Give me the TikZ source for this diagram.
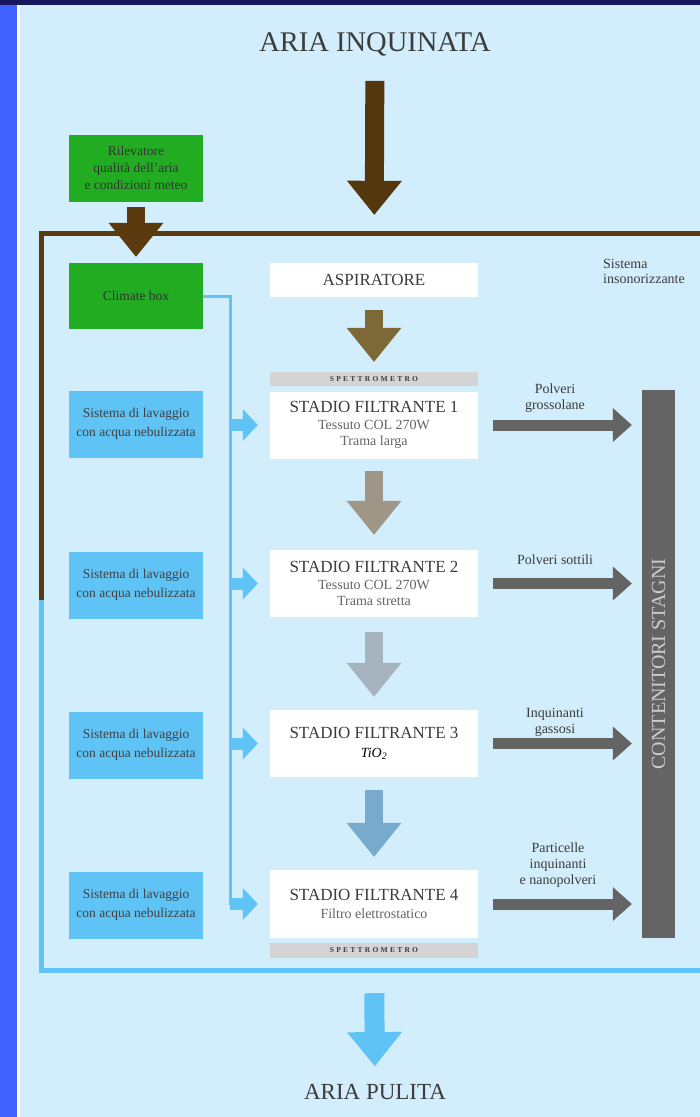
\documentclass[tikz,border=0pt]{standalone}
\usepackage{fontspec}
\setmainfont{Liberation Serif}
\usetikzlibrary{arrows.meta,positioning}

\definecolor{panel}{RGB}{210,237,251}
\definecolor{sidebar}{RGB}{64,96,255}
\definecolor{topbar}{RGB}{22,22,92}
\definecolor{boxgreen}{RGB}{34,172,34}
\definecolor{waterblue}{RGB}{95,195,245}
\definecolor{framebrown}{RGB}{90,58,14}
\definecolor{darkgrey}{RGB}{100,100,100}
\definecolor{bandgrey}{RGB}{212,212,212}
\definecolor{txtgrey}{RGB}{60,60,60}
\definecolor{flowA}{RGB}{125,105,55}
\definecolor{flowB}{RGB}{160,150,135}
\definecolor{flowC}{RGB}{165,180,190}
\definecolor{flowD}{RGB}{120,170,205}

\begin{document}
\begin{tikzpicture}[x=1pt,y=-1pt,
  every node/.style={inner sep=0pt,align=center},
  greenbox/.style={fill=boxgreen,minimum width=134pt,minimum height=67pt,text=black!80,font=\fontsize{13.5}{17}\selectfont},
  washbox/.style={fill=waterblue,minimum width=134pt,minimum height=67pt,text=black!75,font=\fontsize{13.5}{19}\selectfont},
  stagebox/.style={fill=white,minimum width=208pt,minimum height=67pt,text=darkgrey,font=\fontsize{14}{16.5}\selectfont},
  band/.style={fill=bandgrey,minimum width=208pt,minimum height=14pt,text=txtgrey,font=\fontsize{7.5}{8}\selectfont\bfseries\addfontfeature{LetterSpace=30}},
  outlbl/.style={text=txtgrey,font=\fontsize{14}{16}\selectfont},
  fat/.style={line width=18pt,-{Triangle[width=55pt,length=34pt,line width=0pt]}},
  outflow/.style={darkgrey,line width=11pt,shorten <=15pt,shorten >=10pt,-{Triangle[width=34pt,length=19pt,line width=0pt]}},
  pipe/.style={waterblue,line width=3pt},
  pipearrow/.style={waterblue,line width=12pt,shorten >=12pt,-{Triangle[width=32pt,length=15pt,line width=0pt]}}
]
\useasboundingbox (0,0) rectangle (700,1117);
% background
\fill[panel] (0,0) rectangle (700,1117);
\fill[sidebar] (0,0) rectangle (17,1117);
\fill[white] (17,5) rectangle (20,1117);
\fill[topbar] (0,0) rectangle (700,5);

% titles
\node[font=\fontsize{28.5}{30}\selectfont,text=txtgrey] (title) at (375,44) {ARIA INQUINATA};
\node[font=\fontsize{23}{25}\selectfont,text=txtgrey] (clean) at (375,1092) {ARIA PULITA};

% enclosure
\draw[framebrown,line width=5pt] (700,233) -- (41,233) -- (41,600);
\draw[waterblue,line width=5pt] (41,600) -- (41,970) -- (700,970);
\node[anchor=north west,align=left,text=txtgrey,font=\fontsize{14}{15.5}\selectfont] (sound) at (603,259) {Sistema\\insonorizzante};

% left column
\node[greenbox] (rilev) at (136,168) {Rilevatore\\qualità dell'aria\\e condizioni meteo};
\node[greenbox,minimum height=66pt] (climate) at (136,296) {Climate box};
\node[washbox] (wash1) at (136,424) {Sistema di lavaggio\\con acqua nebulizzata};
\node[washbox] (wash2) at (136,585) {Sistema di lavaggio\\con acqua nebulizzata};
\node[washbox] (wash3) at (136,745) {Sistema di lavaggio\\con acqua nebulizzata};
\node[washbox] (wash4) at (136,905) {Sistema di lavaggio\\con acqua nebulizzata};

% filter column
\node[stagebox,minimum height=34pt] (aspir) at (374,280) {{\fontsize{17}{20}\selectfont\color{txtgrey}ASPIRATORE}};
\node[band] (band1) at (374,379) {SPETTROMETRO};
\node[stagebox] (stage1) at (374,425) {{\fontsize{17}{20}\selectfont\color{txtgrey}STADIO FILTRANTE 1}\\[0pt] Tessuto COL 270W\\ Trama larga};
\node[stagebox] (stage2) at (374,583.5) {{\fontsize{17}{20}\selectfont\color{txtgrey}STADIO FILTRANTE 2}\\[0pt] Tessuto COL 270W\\ Trama stretta};
\node[stagebox] (stage3) at (374,743.5) {{\fontsize{17}{20}\selectfont\color{txtgrey}STADIO FILTRANTE 3}\\[2pt] {\color{black}\itshape TiO\textsubscript{2}}};
\node[stagebox,minimum height=68pt] (stage4) at (374,904) {{\fontsize{17}{20}\selectfont\color{txtgrey}STADIO FILTRANTE 4}\\[1pt] Filtro elettrostatico};
\node[band,minimum height=15pt] (band2) at (374,950.5) {SPETTROMETRO};

% containers
\node[fill=darkgrey,minimum width=33pt,minimum height=548pt] (cont) at (658.5,664) {};
\node[rotate=90,text=black!20,font=\fontsize{20}{22}\selectfont] (contlbl) at (cont.center) {CONTENITORI STAGNI};

\node[outlbl] (out1) at (555,398) {Polveri\\grossolane};
\node[outlbl] (out2) at (555,560) {Polveri sottili};
\node[outlbl] (out3) at (555,722) {Inquinanti\\gassosi};
\node[outlbl] (out4) at (558,865) {Particelle\\inquinanti\\e nanopolveri};

% main flow
\draw[fat,line width=19pt,framebrown!95!black,shorten <=25pt,shorten >=48pt] (title) -- (aspir);
\draw[fat,flowA,shorten <=13pt,shorten >=10pt] (aspir) -- (band1);
\draw[fat,flowB,shorten <=12pt,shorten >=15pt] (stage1) -- (stage2);
\draw[fat,flowC,shorten <=15pt,shorten >=13pt] (stage2) -- (stage3);
\draw[fat,flowD,shorten <=13pt,shorten >=13pt] (stage3) -- (stage4);
\draw[fat,line width=20pt,waterblue,shorten <=35pt,shorten >=18pt] (band2) -- (clean);
\draw[fat,framebrown,shorten <=5pt,shorten >=6pt] (rilev) -- (climate);

% water pipe
\coordinate (pipeend) at (230,905);
\draw[pipe] (climate.east) -| (pipeend);
\draw[pipearrow] (stage1.west -| pipeend) -- (stage1.west);
\draw[pipearrow] (stage2.west -| pipeend) -- (stage2.west);
\draw[pipearrow] (stage3.west -| pipeend) -- (stage3.west);
\draw[pipearrow] (stage4.west -| pipeend) -- (stage4.west);

% outputs
\draw[outflow] (stage1.east) -- (stage1.east -| cont.west);
\draw[outflow] (stage2.east) -- (stage2.east -| cont.west);
\draw[outflow] (stage3.east) -- (stage3.east -| cont.west);
\draw[outflow] (stage4.east) -- (stage4.east -| cont.west);
\end{tikzpicture}
\end{document}
